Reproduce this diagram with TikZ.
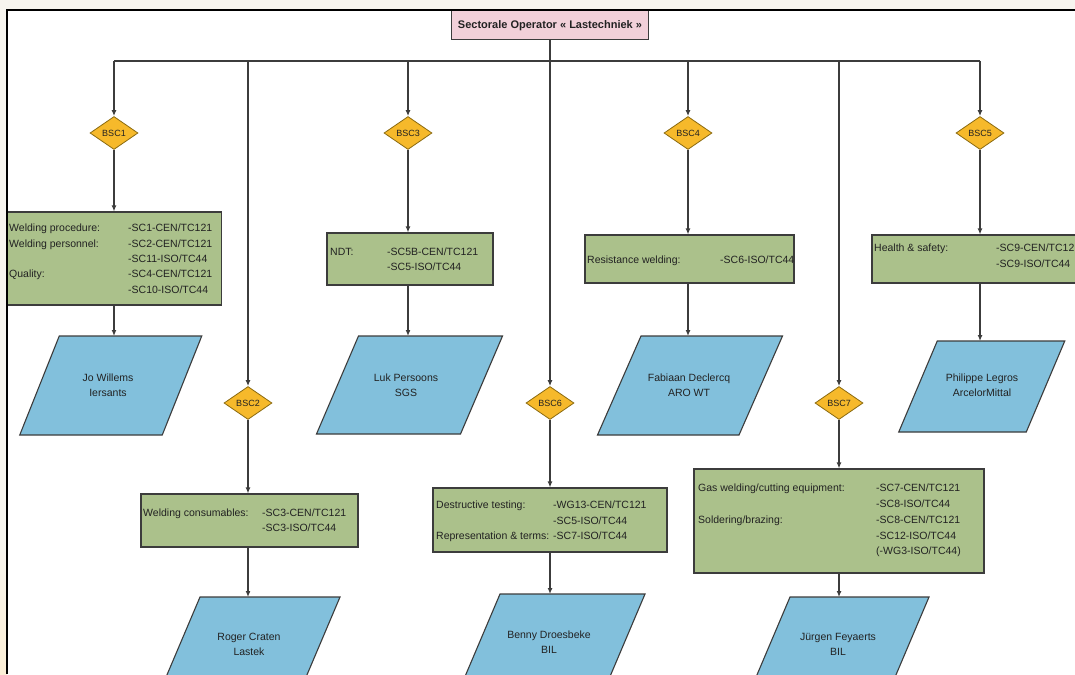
\documentclass[tikz,border=0pt]{standalone}
\usepackage{fontspec}
\setmainfont{Liberation Sans}
\usetikzlibrary{arrows.meta,shapes.geometric}
\definecolor{bgbeige}{HTML}{F7F5EF}
\definecolor{lorange}{HTML}{FCEFD6}
\definecolor{gfill}{HTML}{ABC18B}
\definecolor{bfill}{HTML}{82C0DC}
\definecolor{pfill}{HTML}{F2D0D9}
\definecolor{ofill}{HTML}{F6B92B}
\definecolor{dedge}{HTML}{8A6A10}
\definecolor{edge}{HTML}{3C3C3C}
\definecolor{txt}{HTML}{222222}
\newcommand\tf[1]{\fontsize{10.5}{#1}\selectfont}
\newcommand\tb[2]{\begin{tabular}[t]{@{}p{#1}@{}l@{}}#2\end{tabular}}
\newcommand\parabox[7]{%
  \filldraw[para] ({#2-#4/2-#6/2},{#3+#5/2}) -- ({#2+#4/2-#6/2},{#3+#5/2})
    -- ({#2+#4/2+#6/2},{#3-#5/2}) -- ({#2-#4/2+#6/2},{#3-#5/2}) -- cycle;
  \coordinate (#1top) at (#7,{#3-#5/2});}
\begin{document}
\begin{tikzpicture}[x=1pt,y=-1pt,
  conn/.style={draw=edge,line width=1.2pt},
  arr/.style={conn,-{Latex[length=6pt,width=5pt]}},
  gbox/.style={draw=edge,line width=1.1pt,fill=gfill,inner sep=0pt},
  dia/.style={diamond,draw=dedge,line width=0.8pt,fill=ofill,inner sep=0pt,
    minimum width=48pt,minimum height=33pt,font=\fontsize{9}{10}\selectfont,text=txt},
  titlebox/.style={draw=edge,line width=1pt,fill=pfill,minimum width=197pt,
    minimum height=29pt,inner sep=0pt,font=\bfseries\fontsize{11}{12}\selectfont,text=txt},
  rows/.style={anchor=base west,inner sep=0pt,text=txt,font=\tf{#1}},
  ptext/.style={align=center,inner sep=0pt,text=txt,font=\tf{15}},
  para/.style={draw=edge,line width=1.1pt,fill=bfill}
]
\useasboundingbox (0,0) rectangle (1075,674);
\clip (0,0) rectangle (1075,674);
\fill[bgbeige] (0,0) rectangle (1075,674);
\shade[top color=bgbeige,bottom color=lorange] (0,540) rectangle (7,674);
\fill[white] (7,10) rectangle (1075,674);

% title and bus
\node[titlebox] (title) at (550,25.5) {Sectorale Operator « Lastechniek »};
\coordinate (j) at (550,61);
\coordinate (t1) at (114,61);
\coordinate (t2) at (248,61);
\coordinate (t3) at (408,61);
\coordinate (t4) at (688,61);
\coordinate (t7) at (839,61);
\coordinate (t5) at (980,61);
\draw[conn] (title.south) -- (j);
\draw[conn] (t1) -- (t5);

% diamonds
\node[dia] (d1) at (114,133) {BSC1};
\node[dia] (d3) at (408,133) {BSC3};
\node[dia] (d4) at (688,133) {BSC4};
\node[dia] (d5) at (980,133) {BSC5};
\node[dia] (d2) at (248,403) {BSC2};
\node[dia] (d6) at (550,403) {BSC6};
\node[dia] (d7) at (839,403) {BSC7};
\draw[arr] (t1) -- (d1.north);
\draw[arr] (t3) -- (d3.north);
\draw[arr] (t4) -- (d4.north);
\draw[arr] (t5) -- (d5.north);
\draw[arr] (t2) -- (d2.north);
\draw[arr] (j) -- (d6.north);
\draw[arr] (t7) -- (d7.north);

% green boxes
\node[gbox,minimum width=214pt,minimum height=93pt] (b1) at (114.5,258.5) {};
\node[gbox,minimum width=166pt,minimum height=52pt] (b3) at (410,259) {};
\node[gbox,minimum width=209pt,minimum height=48pt] (b4) at (689.5,259) {};
\node[gbox,minimum width=216pt,minimum height=48pt] (b5) at (980,259) {};
\node[gbox,minimum width=217pt,minimum height=53pt] (b2) at (249.5,520.5) {};
\node[gbox,minimum width=234pt,minimum height=64pt] (b6) at (550,520) {};
\node[gbox,minimum width=290pt,minimum height=104pt] (b7) at (839,521) {};

\node[rows=15.3] (b1t) at (9,231.8) {\tb{119pt}{Welding procedure: & -SC1-CEN/TC121\\
  Welding personnel: & -SC2-CEN/TC121\\ & -SC11-ISO/TC44\\
  Quality: & -SC4-CEN/TC121\\ & -SC10-ISO/TC44}};
\node[rows=15] (b3t) at (330,255.8) {\tb{57pt}{NDT: & -SC5B-CEN/TC121\\ & -SC5-ISO/TC44}};
\node[rows=16] (b4t) at (587,263) {\tb{133pt}{Resistance welding: & -SC6-ISO/TC44}};
\node[rows=16] (b5t) at (874,251.8) {\tb{122pt}{Health \& safety: & -SC9-CEN/TC12\\ & -SC9-ISO/TC44}};
\node[rows=15] (b2t) at (143,516.8) {\tb{119pt}{Welding consumables: & -SC3-CEN/TC121\\ & -SC3-ISO/TC44}};
\node[rows=15.5] (b6t) at (436,508.8) {\tb{117pt}{Destructive testing: & -WG13-CEN/TC121\\
  & -SC5-ISO/TC44\\ Representation \& terms: & -SC7-ISO/TC44}};
\node[rows=15.75] (b7t) at (698,491.8) {\tb{178pt}{Gas welding/cutting equipment: & -SC7-CEN/TC121\\
  & -SC8-ISO/TC44\\ Soldering/brazing: & -SC8-CEN/TC121\\ & -SC12-ISO/TC44\\ & (-WG3-ISO/TC44)}};

% parallelograms
\parabox{p1}{110.75}{385.5}{142.5}{99}{39.5}{114}
\parabox{p3}{409.5}{385}{144}{98}{42}{408}
\parabox{p4}{690}{385.5}{141.5}{99}{43.5}{688}
\parabox{p5}{981.75}{386.5}{127.5}{91}{38.5}{980}
\parabox{p2}{249}{646.5}{140}{99}{42}{248}
\parabox{p6}{551.5}{643.5}{145}{99}{42}{550}
\parabox{p7}{838.5}{646.5}{139}{99}{42}{839}
\node[ptext] (p1t) at (108,385) {Jo Willems\\Iersants};
\node[ptext] (p3t) at (406,385) {Luk Persoons\\SGS};
\node[ptext] (p4t) at (689,385) {Fabiaan Declercq\\ARO WT};
\node[ptext] (p5t) at (982,385) {Philippe Legros\\ArcelorMittal};
\node[ptext] (p2t) at (249,644) {Roger Craten\\Lastek};
\node[ptext] (p6t) at (549,642) {Benny Droesbeke\\BIL};
\node[ptext] (p7t) at (838,644) {Jürgen Feyaerts\\BIL};

% arrows diamond -> box -> person
\draw[arr] (d1.south) -- (d1.south |- b1.north);
\draw[arr] (d3.south) -- (d3.south |- b3.north);
\draw[arr] (d4.south) -- (d4.south |- b4.north);
\draw[arr] (d5.south) -- (d5.south |- b5.north);
\draw[arr] (d2.south) -- (d2.south |- b2.north);
\draw[arr] (d6.south) -- (d6.south |- b6.north);
\draw[arr] (d7.south) -- (d7.south |- b7.north);
\draw[arr] (d1 |- b1.south) -- (p1top);
\draw[arr] (d3 |- b3.south) -- (p3top);
\draw[arr] (d4 |- b4.south) -- (p4top);
\draw[arr] (d5 |- b5.south) -- (p5top);
\draw[arr] (d2 |- b2.south) -- (p2top);
\draw[arr] (d6 |- b6.south) -- (p6top);
\draw[arr] (d7 |- b7.south) -- (p7top);

% frame
\draw[black,line width=1.5pt] (1075,10) -- (7,10) -- (7,674);
\end{tikzpicture}
\end{document}
